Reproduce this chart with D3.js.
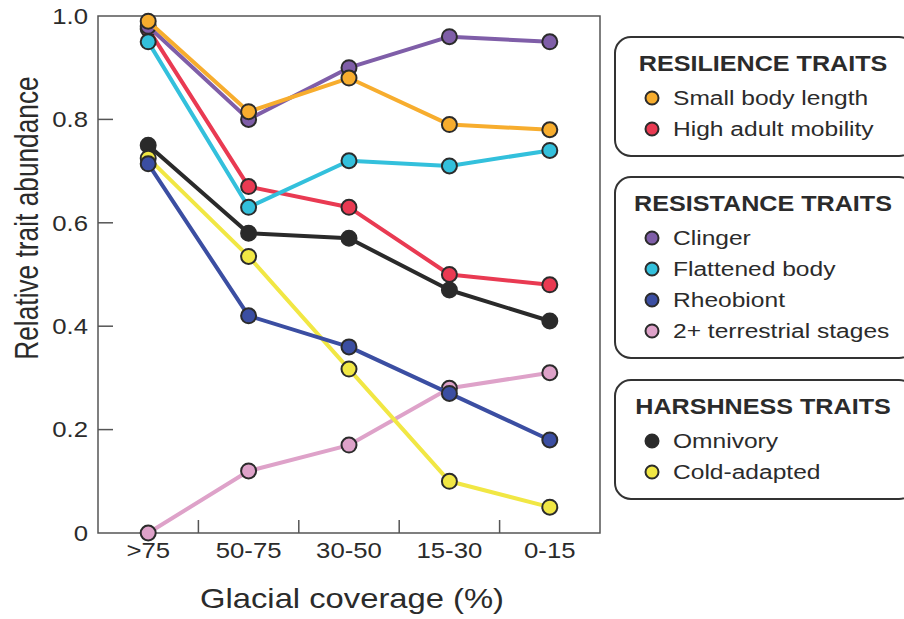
<!DOCTYPE html>
<html>
<head>
  <meta charset="utf-8">
  <title>Relative trait abundance</title>
  <script src="https://d3js.org/d3.v7.min.js"></script>
  <style>
    body { margin: 0; background: #fff; }
    text { font-family: "Liberation Sans", Arial, sans-serif; fill: #2b2b2b; }
    .frame { fill: none; stroke: #555; stroke-width: 1.5px; }
    .line { fill: none; stroke-width: 4px; stroke-linejoin: round; }
    .dot { stroke: #2b2b2b; stroke-width: 2px; }
    .box { fill: #fff; stroke: #333; stroke-width: 2px; }
  </style>
</head>
<body>
  <svg width="904" height="619"></svg>
  <script>
    // categories and tick labels
    const coverage = [">75", "50-75", "30-50", "15-30", "0-15"];
    const yTicks = [0, 0.2, 0.4, 0.6, 0.8, 1.0];

    // series values
    const clinger = [0.98, 0.80, 0.90, 0.96, 0.95];
    const smallBody = [0.99, 0.815, 0.88, 0.79, 0.78];
    const highMobility = [0.975, 0.67, 0.63, 0.50, 0.48];
    const flattened = [0.95, 0.63, 0.72, 0.71, 0.74];
    const omnivory = [0.75, 0.58, 0.57, 0.47, 0.41];
    const rheobiont = [0.714, 0.42, 0.36, 0.27, 0.18];
    const coldAdapted = [0.725, 0.535, 0.317, 0.10, 0.05];
    const terrestrial = [0.0, 0.12, 0.17, 0.28, 0.31];

    // legend groups
    const groups = [
      { title: "RESILIENCE TRAITS", items: ["Small body length", "High adult mobility"] },
      { title: "RESISTANCE TRAITS", items: ["Clinger", "Flattened body", "Rheobiont", "2+ terrestrial stages"] },
      { title: "HARSHNESS TRAITS", items: ["Omnivory", "Cold-adapted"] }
    ];

    const colors = {
      "Small body length": "#f7ad2e",
      "High adult mobility": "#e93a52",
      "Clinger": "#7f5ea8",
      "Flattened body": "#33c0dc",
      "Rheobiont": "#3b4ea2",
      "2+ terrestrial stages": "#dea2c9",
      "Omnivory": "#2a2a2a",
      "Cold-adapted": "#f1e744"
    };

    // draw order (bottom to top)
    const series = [
      { name: "2+ terrestrial stages", values: terrestrial },
      { name: "High adult mobility", values: highMobility },
      { name: "Omnivory", values: omnivory },
      { name: "Cold-adapted", values: coldAdapted },
      { name: "Rheobiont", values: rheobiont },
      { name: "Flattened body", values: flattened },
      { name: "Clinger", values: clinger },
      { name: "Small body length", values: smallBody }
    ];

    const svg = d3.select("svg");
    const plotL = 98, plotR = 600, plotT = 16, plotB = 533;
    const SX = 1.17; // the original figure's text is horizontally stretched

    const x = d3.scaleBand().domain(coverage).range([plotL, plotR]);
    const y = d3.scaleLinear().domain([0, 1]).range([plotB, plotT]);

    // place a text at (tx,ty) with the horizontal stretch
    function stretched(sel, tx, ty) {
      return sel.attr("transform", (d, i) => {
        const px = typeof tx === "function" ? tx(d, i) : tx;
        const py = typeof ty === "function" ? ty(d, i) : ty;
        return `translate(${px},${py}) scale(${SX},1)`;
      });
    }

    // frame
    svg.append("rect").attr("class", "frame")
      .attr("x", plotL).attr("y", plotT)
      .attr("width", plotR - plotL).attr("height", plotB - plotT);

    // y axis: inward ticks
    const yAxis = svg.append("g");
    yAxis.selectAll("line")
      .data(yTicks.filter(d => d > 0 && d < 1))
      .enter().append("line")
      .attr("x1", plotL).attr("x2", plotL + 15)
      .attr("y1", d => y(d)).attr("y2", d => y(d))
      .attr("stroke", "#555").attr("stroke-width", 1.5);
    yAxis.selectAll("text")
      .data(yTicks)
      .enter().append("text")
      .call(stretched, plotL - 10, d => y(d))
      .attr("dy", "0.35em")
      .attr("text-anchor", "end")
      .style("font-size", "22px")
      .text(d => d === 0 ? "0" : d3.format(".1f")(d));

    // x axis: ticks at band boundaries
    const xAxis = svg.append("g");
    xAxis.selectAll("line")
      .data(coverage.slice(1))
      .enter().append("line")
      .attr("x1", d => x(d)).attr("x2", d => x(d))
      .attr("y1", plotB).attr("y2", plotB - 13)
      .attr("stroke", "#555").attr("stroke-width", 1.5);
    xAxis.selectAll("text")
      .data(coverage)
      .enter().append("text")
      .call(stretched, d => x(d) + x.bandwidth() / 2, plotB + 25)
      .attr("text-anchor", "middle")
      .style("font-size", "22px")
      .text(d => d);

    // axis titles
    svg.append("text")
      .call(stretched, 352, 608)
      .attr("text-anchor", "middle")
      .style("font-size", "28px")
      .text("Glacial coverage (%)");
    svg.append("text")
      .attr("transform", "translate(38,218) rotate(-90) scale(1,1.28)")
      .attr("text-anchor", "middle")
      .style("font-size", "26.3px")
      .text("Relative trait abundance");

    // lines and points
    const line = d3.line()
      .x((d, i) => x(coverage[i]) + x.bandwidth() / 2)
      .y(d => y(d));

    const sg = svg.selectAll(".series")
      .data(series)
      .enter().append("g")
      .attr("class", "series");

    sg.append("path")
      .attr("class", "line")
      .attr("stroke", d => colors[d.name])
      .attr("d", d => line(d.values));

    sg.selectAll("circle")
      .data(d => d.values.map(v => ({ v, name: d.name })))
      .enter().append("circle")
      .attr("class", "dot")
      .attr("cx", (d, i) => x(coverage[i]) + x.bandwidth() / 2)
      .attr("cy", d => y(d.v))
      .attr("r", 7.5)
      .attr("fill", d => colors[d.name]);

    // legend boxes
    const boxTops = [37, 177, 380];
    const rowH = 31;
    const lg = svg.selectAll(".legend")
      .data(groups)
      .enter().append("g")
      .attr("class", "legend")
      .attr("transform", (d, i) => `translate(615,${boxTops[i]})`);

    lg.append("rect").attr("class", "box")
      .attr("x", 0).attr("y", 0)
      .attr("width", 300)
      .attr("height", d => 57 + d.items.length * rowH)
      .attr("rx", 16);

    lg.append("text")
      .call(stretched, 148, 34)
      .attr("text-anchor", "middle")
      .style("font-size", "21.5px")
      .style("font-weight", "bold")
      .text(d => d.title);

    const item = lg.selectAll(".item")
      .data(d => d.items)
      .enter().append("g")
      .attr("class", "item")
      .attr("transform", (d, i) => `translate(0,${61 + i * rowH})`);
    item.append("circle")
      .attr("class", "dot")
      .attr("cx", 37).attr("cy", 0).attr("r", 6.5)
      .attr("fill", d => colors[d]);
    item.append("text")
      .call(stretched, 58, 0)
      .attr("dy", "0.35em")
      .style("font-size", "21px")
      .text(d => d);
  </script>
</body>
</html>
